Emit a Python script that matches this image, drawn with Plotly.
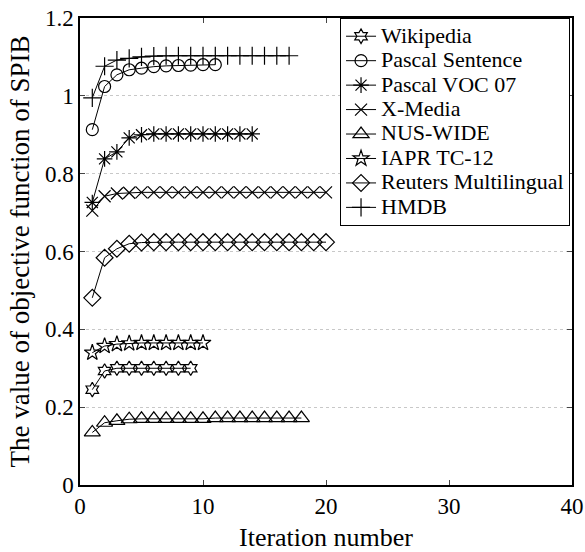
import plotly.graph_objects as go

names = ["Wikipedia", "Pascal Sentence", "Pascal VOC 07", "X-Media",
         "NUS-WIDE", "IAPR TC-12", "Reuters Multilingual", "HMDB"]

wikipedia = [0.245, 0.293, 0.300, 0.300, 0.300, 0.300, 0.300, 0.300, 0.300]
pascal_sentence = [0.913, 1.024, 1.054, 1.067, 1.071, 1.075, 1.077, 1.078, 1.079, 1.080, 1.080]
pascal_voc = [0.726, 0.838, 0.856, 0.892, 0.900, 0.902, 0.902, 0.902, 0.902, 0.902,
              0.902, 0.902, 0.902, 0.902]
x_media = [0.705, 0.742, 0.749, 0.751, 0.752, 0.752, 0.752, 0.752, 0.752, 0.752,
           0.752, 0.752, 0.752, 0.752, 0.752, 0.752, 0.752, 0.752, 0.752, 0.752]
nus_wide = [0.135, 0.160, 0.165, 0.169, 0.170, 0.170, 0.170, 0.170, 0.170, 0.170,
            0.172, 0.172, 0.172, 0.172, 0.172, 0.172, 0.172, 0.172]
iapr = [0.340, 0.357, 0.362, 0.364, 0.365, 0.365, 0.365, 0.365, 0.365, 0.365]
reuters = [0.481, 0.584, 0.607, 0.620, 0.623, 0.624, 0.624, 0.624, 0.624, 0.624,
           0.624, 0.624, 0.624, 0.624, 0.624, 0.624, 0.624, 0.624, 0.624, 0.624]
hmdb = [0.995, 1.076, 1.092, 1.096, 1.100, 1.102, 1.103, 1.103, 1.103, 1.103,
        1.103, 1.103, 1.103, 1.103, 1.103, 1.103, 1.103]

series = [wikipedia, pascal_sentence, pascal_voc, x_media, nus_wide, iapr, reuters, hmdb]
symbols = ["hexagram-open", "circle-open", "asterisk-open", "x-thin-open",
           "triangle-up-open", "star-open", "diamond-open", "cross-thin-open"]
sizes = [11, 12, 13, 12, 14, 12, 13, 13]

x_ticks = [0, 10, 20, 30, 40]
y_ticks = [0, 0.2, 0.4, 0.6, 0.8, 1.0, 1.2]
y_tick_text = ["0", "0.2", "0.4", "0.6", "0.8", "1", "1.2"]

font_family = "Liberation Serif, Times New Roman, serif"

fig = go.Figure()
for name, vals, sym, sz in zip(names, series, symbols, sizes):
    fig.add_trace(go.Scatter(
        x=list(range(1, len(vals) + 1)), y=vals,
        name='<span style="font-size:22px">' + name + '</span>',
        mode="lines+markers",
        line=dict(color="black", width=1),
        marker=dict(symbol=sym, size=sz, color="black",
                    line=dict(color="black", width=1.2)),
    ))

fig.update_layout(
    width=585, height=552,
    margin=dict(l=80, r=13, t=18, b=67, autoexpand=False),
    plot_bgcolor="white", paper_bgcolor="white",
    font=dict(family=font_family, color="black", size=23),
    legend=dict(
        x=0.996, y=1.0, xanchor="right", yanchor="top",
        bgcolor="white", bordercolor="black", borderwidth=1,
        font=dict(family=font_family, size=16.5, color="black"),
        tracegroupgap=0, itemwidth=30,
    ),
    xaxis=dict(
        range=[0, 40], tickvals=x_ticks, ticks="inside", ticklen=5,
        showline=True, linecolor="black", linewidth=1.5, mirror="ticks",
        showgrid=False, zeroline=False, automargin=False,
        tickfont=dict(size=23),
        title=dict(text="Iteration number", font=dict(size=26), standoff=10),
    ),
    yaxis=dict(
        range=[0, 1.2], tickvals=y_ticks, ticktext=y_tick_text,
        ticks="inside", ticklen=5,
        showline=True, linecolor="black", linewidth=1.5, mirror="ticks",
        showgrid=True, gridcolor="#c8c8c8", griddash="dot", gridwidth=1,
        zeroline=False, automargin=False,
        tickfont=dict(size=23),
        title=dict(text="The value of objective function of SPIB",
                   font=dict(size=27), standoff=7),
    ),
)

fig.write_html(
    "out.html",
    config={"displayModeBar": False},
    post_script="document.body.style.margin='0';document.body.style.padding='0';",
)
